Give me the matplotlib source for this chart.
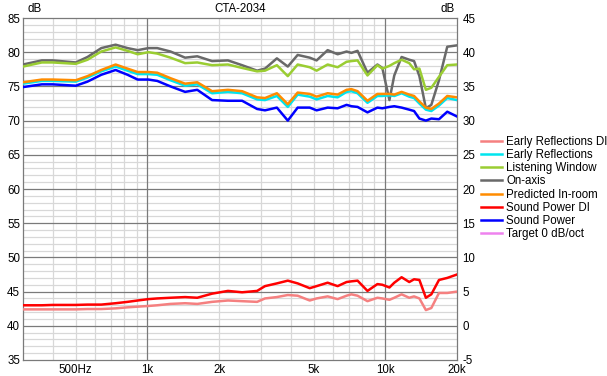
import matplotlib
matplotlib.use('Agg')
import matplotlib.pyplot as plt
from matplotlib.lines import Line2D
from matplotlib.ticker import MultipleLocator

plt.rcParams['font.family'] = ['Liberation Sans', 'DejaVu Sans']
plt.rcParams['font.size'] = 8.3
plt.rcParams['axes.unicode_minus'] = False

# frequencies (Hz)
freq = [300, 360, 400, 500, 560, 640, 735, 825, 910, 1010, 1100, 1250, 1440, 1620,
        1870, 2180, 2500, 2890, 3120, 3500, 3890, 4280, 4810, 5140, 5720, 6300,
        6870, 7200, 7640, 8410, 9260, 9710, 10400, 10900, 11700, 12600, 13200,
        13900, 14800, 15600, 16800, 18200, 20000]

on_axis = [78.2, 78.8, 78.8, 78.5, 79.3, 80.6, 81.1, 80.6, 80.3, 80.6, 80.6, 80.1, 79.2, 79.4,
           78.7, 78.8, 78.1, 77.3, 77.6, 79.1, 77.9, 79.6, 79.2, 78.8, 80.3, 79.7,
           80.1, 79.9, 80.2, 77.0, 78.2, 77.7, 73.0, 76.6, 79.3, 78.9, 78.7,
           76.5, 71.8, 72.3, 75.9, 80.8, 81.0]

listening_window = [77.9, 78.5, 78.5, 78.3, 78.9, 80.1, 80.7, 80.2, 79.7, 80.0, 79.8, 79.2, 78.4, 78.5,
                    78.1, 78.2, 77.7, 77.2, 77.3, 78.1, 76.5, 78.2, 77.8, 77.3, 78.2, 77.8,
                    78.6, 78.7, 78.8, 76.6, 78.1, 77.6, 78.0, 78.4, 78.9, 78.4, 77.5,
                    77.6, 74.5, 74.8, 76.4, 78.1, 78.2]

predicted_in_room = [75.6, 76.0, 76.0, 75.9, 76.5, 77.4, 78.2, 77.6, 77.1, 77.1, 77.0, 76.2, 75.4, 75.6,
                     74.3, 74.5, 74.3, 73.4, 73.3, 74.0, 72.4, 74.1, 73.9, 73.5, 74.0, 73.8,
                     74.5, 74.6, 74.3, 72.9, 73.9, 73.9, 73.9, 73.8, 74.2, 73.8, 73.6,
                     72.8, 71.9, 71.7, 72.5, 73.6, 73.4]

early_reflections = [75.4, 75.8, 75.8, 75.7, 76.3, 77.2, 77.9, 77.3, 76.8, 76.8, 76.7, 75.9, 75.1, 75.3,
                     74.0, 74.2, 74.0, 73.1, 73.0, 73.6, 72.0, 73.8, 73.5, 73.1, 73.6, 73.4,
                     74.2, 74.3, 74.0, 72.6, 73.6, 73.6, 73.7, 73.6, 74.0, 73.5, 73.3,
                     72.5, 71.6, 71.4, 72.2, 73.3, 73.0]

sound_power = [74.9, 75.3, 75.3, 75.1, 75.7, 76.7, 77.4, 76.7, 76.0, 76.0, 75.8, 75.0, 74.2, 74.5,
               73.0, 72.9, 72.9, 71.7, 71.5, 71.9, 70.0, 71.9, 71.9, 71.5, 71.9, 71.8,
               72.3, 72.1, 72.0, 71.2, 71.9, 71.8, 72.0, 72.1, 71.9, 71.6, 71.4,
               70.3, 70.0, 70.3, 70.2, 71.3, 70.6]

# directivity indices, right axis
sound_power_di = [3.0, 3.0, 3.05, 3.05, 3.1, 3.1, 3.3, 3.5, 3.7, 3.9, 4.0, 4.1, 4.2, 4.1,
                  4.7, 5.1, 4.9, 5.1, 5.8, 6.2, 6.6, 6.2, 5.5, 5.8, 6.3, 5.8,
                  6.4, 6.5, 6.6, 5.1, 6.1, 6.0, 5.6, 6.3, 7.1, 6.4, 6.8,
                  6.7, 4.1, 4.6, 6.7, 7.0, 7.5]

early_reflections_di = [2.4, 2.4, 2.4, 2.4, 2.45, 2.45, 2.55, 2.7, 2.8, 2.9, 3.0, 3.2, 3.3, 3.2,
                        3.5, 3.7, 3.6, 3.5, 4.0, 4.2, 4.5, 4.4, 3.7, 4.0, 4.3, 3.9,
                        4.4, 4.6, 4.4, 3.6, 4.1, 4.0, 3.8, 4.1, 4.6, 4.1, 4.3,
                        4.0, 2.3, 2.6, 4.8, 4.8, 5.0]

xtick_pos = [500, 1000, 2000, 5000, 10000, 20000]
xtick_labels = ['500Hz', '1k', '2k', '5k', '10k', '20k']

c_erdi = '#f58080'
c_er = '#00e5ee'
c_lw = '#9acd32'
c_on = '#696969'
c_pir = '#ff8c00'
c_spdi = '#ff0000'
c_sp = '#0000ff'
c_target = '#ee82ee'

fig = plt.figure(figsize=(6.07, 3.76), dpi=100)
ax = fig.add_axes([23/607, 1-360/376, (457-23)/607, (360-18)/376])
ax.set_xscale('log')
ax.set_xlim(300, 20000)
ax.set_ylim(35, 85)

# grid
ax.yaxis.set_major_locator(MultipleLocator(5))
ax.yaxis.set_minor_locator(MultipleLocator(1))
ax.grid(False)
for v in range(36, 85):
    if v % 5:
        ax.axhline(v, color='#d8d8d8', lw=0.9, zorder=0)
for v in range(40, 85, 5):
    ax.axhline(v, color='#7a7a7a', lw=0.9, zorder=1)
for f in [400, 500, 600, 700, 800, 900, 2000, 3000, 4000, 5000, 6000, 7000, 8000, 9000]:
    ax.axvline(f, color='#d8d8d8', lw=0.9, zorder=0)
for f in [1000, 10000]:
    ax.axvline(f, color='#7a7a7a', lw=0.9, zorder=1)

ax.set_xticks(xtick_pos)
ax.set_xticklabels(xtick_labels)
ax.xaxis.set_minor_locator(plt.NullLocator())
ax.tick_params(axis='both', which='both', length=0, pad=2)
ax.tick_params(axis='x', pad=3)
for s in ax.spines.values():
    s.set_color('#7a7a7a')
    s.set_linewidth(0.9)

lw = 1.8
ax.plot(freq, on_axis, color=c_on, lw=lw, zorder=3)
ax.plot(freq, listening_window, color=c_lw, lw=lw, zorder=3)
ax.plot(freq, early_reflections, color=c_er, lw=lw, zorder=3)
ax.plot(freq, predicted_in_room, color=c_pir, lw=lw, zorder=4)
ax.plot(freq, sound_power, color=c_sp, lw=lw, zorder=4)

ax2 = ax.twinx()
ax2.set_ylim(-5, 45)
ax2.yaxis.set_major_locator(MultipleLocator(5))
ax2.tick_params(axis='y', length=0, pad=4)
for s in ax2.spines.values():
    s.set_visible(False)
ax2.plot(freq, early_reflections_di, color=c_erdi, lw=lw, zorder=3)
ax2.plot(freq, sound_power_di, color=c_spdi, lw=lw, zorder=4)

fig.text(27/607, 1-9/376, 'dB', ha='left', va='center')
fig.text(455/607, 1-9/376, 'dB', ha='right', va='center')
fig.text(240/607, 1-9/376, 'CTA-2034', ha='center', va='center')

names = ['Early Reflections DI', 'Early Reflections', 'Listening Window', 'On-axis',
         'Predicted In-room', 'Sound Power DI', 'Sound Power', 'Target 0 dB/oct']
colors = [c_erdi, c_er, c_lw, c_on, c_pir, c_spdi, c_sp, c_target]
handles = [Line2D([], [], color=c, lw=lw) for c in colors]
fig.legend(handles, names, loc='upper left', bbox_to_anchor=(481/607, 1-136/376),
           frameon=False, handlelength=1.8, handletextpad=0.4, labelspacing=0.1,
           borderpad=0, borderaxespad=0)

fig.savefig('out.png', dpi=100)
